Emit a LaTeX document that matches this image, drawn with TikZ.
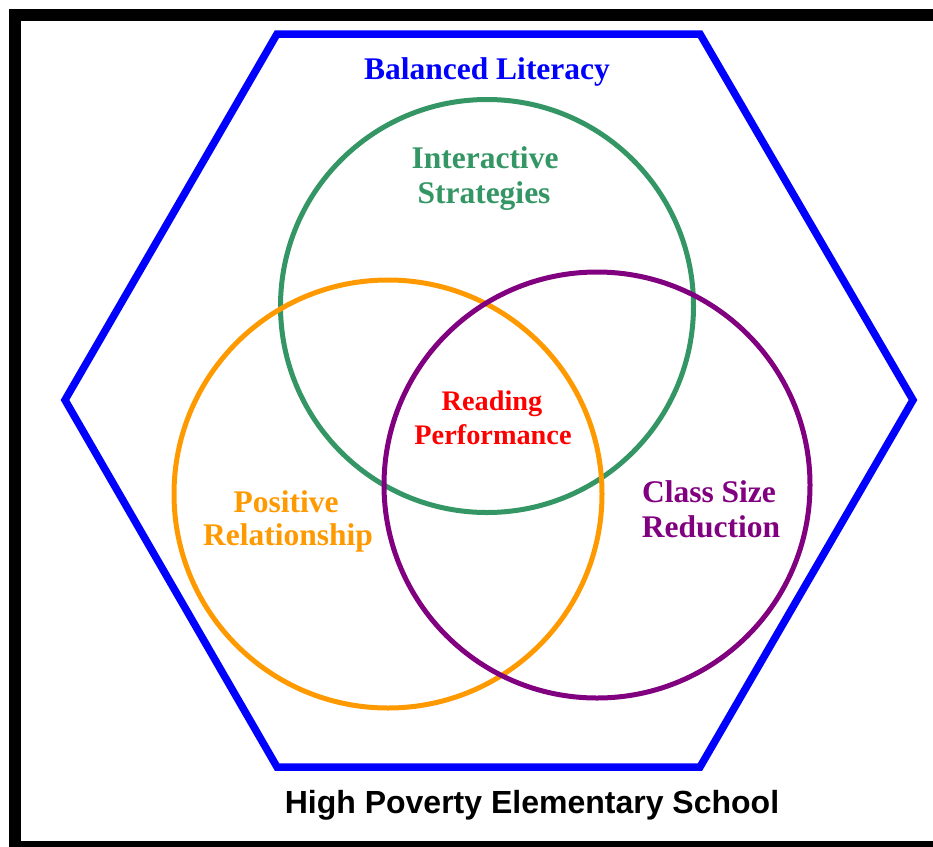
\documentclass[tikz,border=0pt]{standalone}
\usepackage{fontspec}
\setmainfont{Liberation Serif}
\setsansfont{Liberation Sans}
\definecolor{hexblue}{RGB}{0,0,255}
\definecolor{cgreen}{RGB}{52,150,100}
\definecolor{corange}{RGB}{255,153,0}
\definecolor{cpurple}{RGB}{128,0,128}
\definecolor{cred}{RGB}{255,0,0}
\tikzset{
  ring/.style={draw, circle, line width=5pt, inner sep=0pt},
  lbl/.style={font=\fontsize{31.5}{35}\selectfont\bfseries, align=center, anchor=base, inner sep=0pt},
}
\begin{document}
\begin{tikzpicture}[x=1pt,y=-1pt]
\useasboundingbox (0,0) rectangle (933,846);
\begin{scope}
\clip (0,0) rectangle (933,846);
\fill[white] (0,0) rectangle (933,846);
\draw[line width=12pt] (15,15) rectangle (960,847);
\end{scope}
% hexagon
\draw[hexblue, line width=7.5pt, line join=miter]
  (65,400) -- (277,34) -- (700,34) -- (913,400) -- (700,767) -- (277,767) -- cycle;
% circles
\node[ring, cgreen, minimum size=413pt] (green) at (487,306) {};
\node[ring, corange, minimum size=428pt] (orange) at (388,494) {};
\node[ring, cpurple, minimum size=426pt] (purple) at (597,485) {};
% labels
\node[lbl, hexblue] (bl) at (487,79) {Balanced Literacy};
\node[lbl, cgreen] (is1) at (485,168) {Interactive};
\node[lbl, cgreen] (is2) at (484,203) {Strategies};
\node[lbl, cred, font=\fontsize{28.3}{33}\selectfont\bfseries] (rp1) at (492,410) {Reading};
\node[lbl, cred, font=\fontsize{28.3}{33}\selectfont\bfseries] (rp2) at (493,444) {Performance};
\node[lbl, corange] (pr1) at (286,512) {Positive};
\node[lbl, corange] (pr2) at (288,545) {Relationship};
\node[lbl, cpurple] (cs1) at (709,502) {Class Size};
\node[lbl, cpurple] (cs2) at (711,537) {Reduction};
\node[anchor=base, inner sep=0pt, font=\sffamily\bfseries\fontsize{32}{36}\selectfont] (hp) at (532,813) {High Poverty Elementary School};
\end{tikzpicture}
\end{document}
